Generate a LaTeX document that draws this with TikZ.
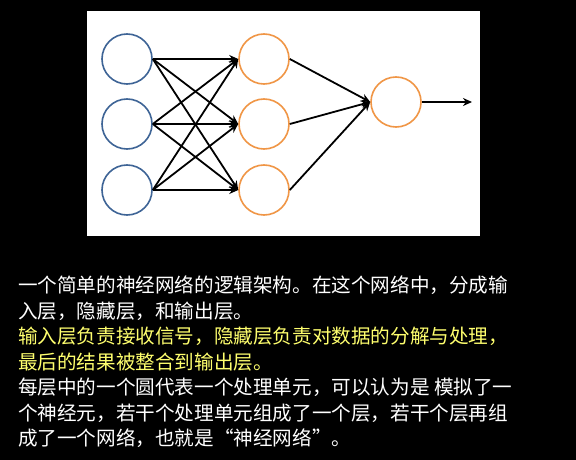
\documentclass[tikz,border=0pt]{standalone}
\usepackage{fontspec}
\newfontfamily\cjk{Noto Sans CJK SC}
\usetikzlibrary{arrows.meta}
\definecolor{inblue}{RGB}{62,100,150}
\definecolor{hidorange}{RGB}{240,150,70}
\definecolor{txtyellow}{RGB}{255,255,110}
\tikzset{
  neuron/.style={circle, draw, line width=1.6pt, minimum size=50pt, inner sep=0pt},
  inneuron/.style={neuron, draw=inblue},
  hidneuron/.style={neuron, draw=hidorange},
  link/.style={line width=1.8pt, -{Stealth[length=9pt,width=8pt]}},
  txtline/.style={anchor=west, inner sep=0pt, font=\cjk\fontsize{19.6pt}{22pt}\selectfont},
}
\begin{document}
\begin{tikzpicture}[x=1pt,y=-1pt]
\useasboundingbox (0,0) rectangle (576,460);
\fill[black] (0,0) rectangle (576,460);
\fill[white] (87,11) rectangle (480,236);
\node[inneuron] (i1) at (127,59) {};
\node[inneuron] (i2) at (127,124) {};
\node[inneuron] (i3) at (127,190) {};
\node[hidneuron] (h1) at (264,59) {};
\node[hidneuron] (h2) at (264,124) {};
\node[hidneuron] (h3) at (264,190) {};
\node[hidneuron] (o) at (396,102) {};
\coordinate (out) at (472,102);
\foreach \i in {1,2,3}{
  \foreach \h in {1,2,3}{
    \draw[link] (i\i.east) -- (h\h.west);
  }
  \draw[link] (h\i.east) -- (o.west);
}
\draw[link] (o.east) -- (out);
\node[txtline, text=white] (t1) at (18,285) {一个简单的神经网络的逻辑架构。在这个网络中，分成输};
\node[txtline, text=white] (t2) at (18,311) {入层，隐藏层，和输出层。};
\node[txtline, text=txtyellow] (t3) at (18,336) {输入层负责接收信号，隐藏层负责对数据的分解与处理，};
\node[txtline, text=txtyellow] (t4) at (18,362) {最后的结果被整合到输出层。};
\node[txtline, text=white] (t5) at (18,387) {每层中的一个圆代表一个处理单元，可以认为是 模拟了一};
\node[txtline, text=white] (t6) at (18,413) {个神经元，若干个处理单元组成了一个层，若干个层再组};
\node[txtline, text=white] (t7) at (18,438) {成了一个网络，也就是“神经网络”。};
\end{tikzpicture}
\end{document}
